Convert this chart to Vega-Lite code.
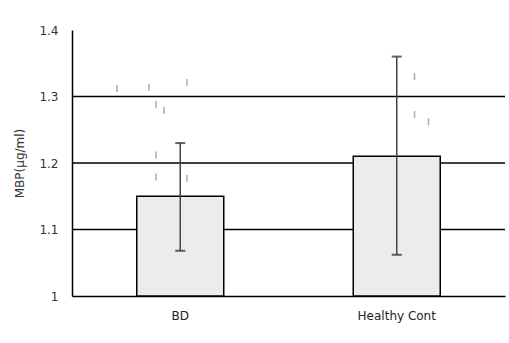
{
  "$schema": "https://vega.github.io/schema/vega-lite/v6.json",
  "width": 433,
  "height": 266,
  "autosize": {"type": "none"},
  "padding": {"left": 72, "top": 30, "right": 4, "bottom": 47},
  "background": "white",
  "config": {"view": {"stroke": null}, "font": "DejaVu Sans"},
  "datasets": {
    "bars": [
      {"group": "BD", "mean": 1.15, "low": 1.068, "high": 1.23},
      {"group": "Healthy Cont", "mean": 1.21, "low": 1.062, "high": 1.36}
    ],
    "points": [
      {"group": "BD", "value": 1.312, "jitter": -63},
      {"group": "BD", "value": 1.314, "jitter": -31},
      {"group": "BD", "value": 1.321, "jitter": 7},
      {"group": "BD", "value": 1.288, "jitter": -24},
      {"group": "BD", "value": 1.279, "jitter": -16},
      {"group": "BD", "value": 1.212, "jitter": -24},
      {"group": "BD", "value": 1.179, "jitter": -24},
      {"group": "BD", "value": 1.177, "jitter": 7},
      {"group": "Healthy Cont", "value": 1.33, "jitter": 18},
      {"group": "Healthy Cont", "value": 1.273, "jitter": 18},
      {"group": "Healthy Cont", "value": 1.262, "jitter": 32}
    ],
    "grid": [{"v": 1.1}, {"v": 1.2}, {"v": 1.3}]
  },
  "encoding": {
    "x": {
      "field": "group",
      "type": "nominal",
      "scale": {"domain": ["BD", "Healthy Cont"], "paddingInner": 0, "paddingOuter": 0},
      "axis": {"title": null, "labelAngle": 0, "ticks": false, "domainColor": "black", "domainWidth": 1.5, "labelPadding": 14, "labelFontSize": 12, "labelColor": "#222"}
    }
  },
  "layer": [
    {
      "data": {"name": "grid"},
      "mark": {"type": "rule", "color": "black", "strokeWidth": 1.5},
      "encoding": {
        "x": null,
        "y": {
          "field": "v",
          "type": "quantitative",
          "title": "MBP(μg/ml)",
          "scale": {"domain": [1, 1.4]},
          "axis": {
            "title": "MBP(μg/ml)",
            "titleFontWeight": "normal",
            "titleFontSize": 12,
            "titleColor": "#333",
            "titlePadding": 12,
            "values": [1, 1.1, 1.2, 1.3, 1.4],
            "labelExpr": "datum.value == 1 ? '1' : format(datum.value, '.1f')",
            "labelFontSize": 12,
            "labelColor": "#333",
            "labelPadding": 14,
            "ticks": false,
            "grid": false,
            "domainColor": "black",
            "domainWidth": 1.5
          }
        }
      }
    },
    {
      "data": {"name": "bars"},
      "mark": {"type": "bar", "fill": "#ececec", "stroke": "black", "strokeWidth": 1.5, "size": 87},
      "encoding": {
        "y": {"field": "mean", "type": "quantitative", "title": "MBP(μg/ml)"},
        "y2": {"datum": 1}
      }
    },
    {
      "data": {"name": "points"},
      "mark": {"type": "tick", "orient": "vertical", "color": "#888", "size": 7, "thickness": 1.5},
      "encoding": {
        "y": {"field": "value", "type": "quantitative", "title": "MBP(μg/ml)"},
        "xOffset": {"field": "jitter", "type": "quantitative", "scale": {"domain": [-108, 108], "range": [0, 216]}}
      }
    },
    {
      "data": {"name": "bars"},
      "mark": {"type": "errorbar", "ticks": {"size": 10, "color": "#222", "thickness": 2}, "rule": {"color": "#444", "strokeWidth": 1.5}},
      "encoding": {
        "y": {"field": "low", "type": "quantitative", "title": "MBP(μg/ml)"},
        "y2": {"field": "high"}
      }
    }
  ]
}
